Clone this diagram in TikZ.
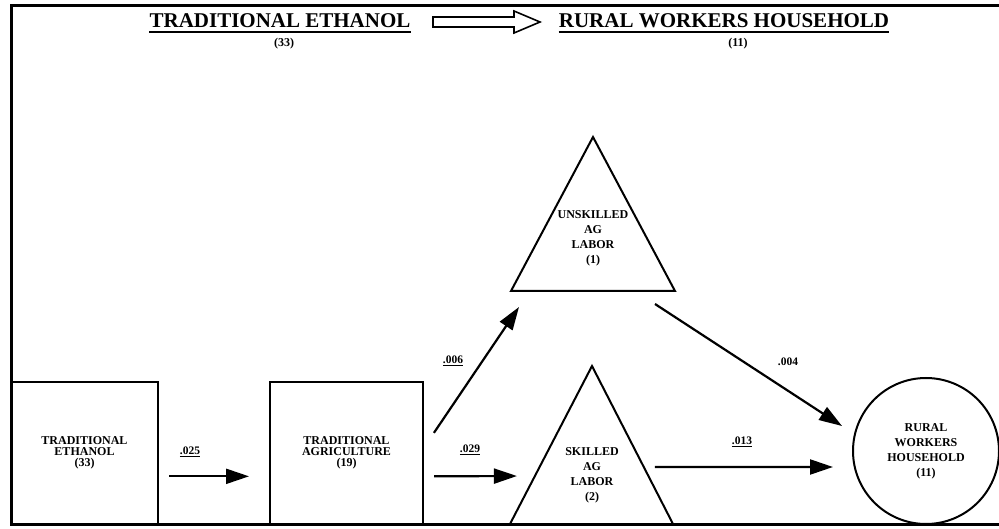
\documentclass[tikz,border=0pt]{standalone}
\usepackage{fontspec}
\setmainfont{Liberation Serif}
\usetikzlibrary{calc,arrows.meta}

\begin{document}
\begin{tikzpicture}[x=1pt,y=-1pt,
  frame/.style={line width=3pt},
  shapeline/.style={line width=2pt},
  flow/.style={line width=2.2pt,-{Triangle[length=23pt,width=15pt]}},
  title/.style={font=\fontsize{21}{21}\selectfont\bfseries,inner sep=0pt},
  sub/.style={font=\fontsize{12}{12}\selectfont\bfseries,inner sep=0pt},
  boxtext/.style={font=\fontsize{12}{11}\selectfont\bfseries,align=center},
  tritext/.style={font=\fontsize{12}{15}\selectfont\bfseries,align=center,inner sep=0pt},
  val/.style={font=\fontsize{11.5}{12}\selectfont\bfseries,inner sep=1pt},
]
\useasboundingbox (0,0) rectangle (999,529);

% outer frame, open on the right
\draw[frame] (999,6) -- (11,6) -- (11,524) -- (999,524);

% headline
\node[title] (t1) at (280,21) {TRADITIONAL ETHANOL};
\draw[line width=2pt] ([yshift=-3.5pt]t1.south west) -- ([yshift=-3.5pt]t1.south east);
\node[sub] (s1) at (284,44) {(33)};
\node[title] (t2) at (724,21) {RURAL WORKERS HOUSEHOLD};
\draw[line width=2pt] ([yshift=-3.5pt]t2.south west) -- ([yshift=-3.5pt]t2.south east);
\node[sub] (s2) at (738,44) {(11)};
% hollow arrow between the headings
\draw[line width=1.6pt,line join=miter]
  (433,17) -- (514,17) -- (514,11) -- (540,22) -- (514,33) -- (514,27) -- (433,27) -- cycle;

% sectors
\node[draw,shapeline,minimum width=147pt,minimum height=142pt,boxtext] (b1) at (84.5,453)
  {TRADITIONAL\\ETHANOL\\(33)};
\node[draw,shapeline,minimum width=153pt,minimum height=142pt,boxtext] (b2) at (346.5,453)
  {TRADITIONAL\\AGRICULTURE\\(19)};

% labour triangles
\coordinate (ua) at (593,137);
\coordinate (ul) at (511,291);
\coordinate (ur) at (675,291);
\draw[shapeline,line join=miter] (ua) -- (ul) -- (ur) -- cycle;
\node[tritext] (ut) at (593,238) {UNSKILLED\\AG\\LABOR\\(1)};

\coordinate (la) at (592,366);
\coordinate (ll) at (510,524);
\coordinate (lr) at (673,524);
\draw[shapeline,line join=miter] (ll) -- (la) -- (lr);
\node[tritext] (lt) at (592,475) {SKILLED\\AG\\LABOR\\(2)};

% household
\node[draw,shapeline,circle,minimum size=146pt,tritext,text width=90pt] (rw) at (926,451)
  {RURAL\\WORKERS\\HOUSEHOLD\\(11)};

% flows
\draw[flow,shorten <=10pt,shorten >=20pt]
  ($(b1.south east)!0.338!(b1.north east)$) -- ($(b2.south west)!0.338!(b2.north west)$);
\draw[flow,shorten <=10pt,shorten >=18pt]
  ($(b2.south east)!0.338!(b2.north east)$) -- ($(ll)!0.304!(la)$);
\draw[flow,shorten <=17.7pt]
  ($(b2.south east)!0.538!(b2.north east)$) -- ($(ul)+(8,16)$);
\draw[flow]
  ($(ur)+(-20,13)$) -- ($(rw.center)+(-84,-25)$);
\draw[flow,shorten <=11pt]
  ($(lr)!0.361!(la)$) -- ($(rw.center)+(-93,16)$);

% coefficients
\node[val] (v1) at (190,452) {\underline{.025}};
\node[val] (v2) at (470,450) {\underline{.029}};
\node[val] (v3) at (453,361) {\underline{.006}};
\node[val] (v4) at (788,362) {.004};
\node[val] (v5) at (742,442) {\underline{.013}};
\end{tikzpicture}
\end{document}
